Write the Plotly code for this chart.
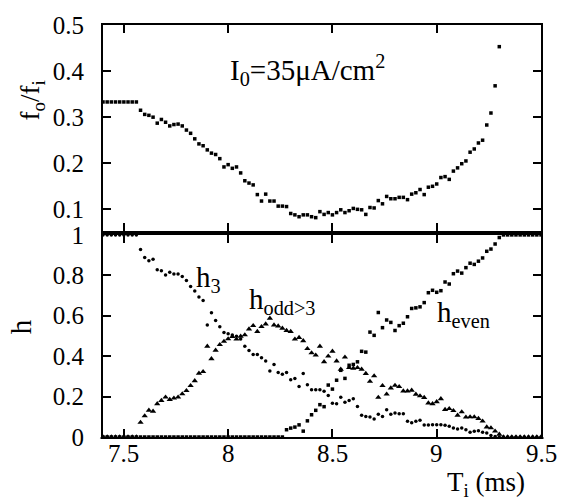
import plotly.graph_objects as go

# Inter-stimulus interval T_i (ms), sampled every 0.02 ms
T_i = [
    7.40, 7.42, 7.44, 7.46, 7.48, 7.50, 7.52, 7.54, 7.56, 7.58,
    7.60, 7.62, 7.64, 7.66, 7.68, 7.70, 7.72, 7.74, 7.76, 7.78,
    7.80, 7.82, 7.84, 7.86, 7.88, 7.90, 7.92, 7.94, 7.96, 7.98,
    8.00, 8.02, 8.04, 8.06, 8.08, 8.10, 8.12, 8.14, 8.16, 8.18,
    8.20, 8.22, 8.24, 8.26, 8.28, 8.30, 8.32, 8.34, 8.36, 8.38,
    8.40, 8.42, 8.44, 8.46, 8.48, 8.50, 8.52, 8.54, 8.56, 8.58,
    8.60, 8.62, 8.64, 8.66, 8.68, 8.70, 8.72, 8.74, 8.76, 8.78,
    8.80, 8.82, 8.84, 8.86, 8.88, 8.90, 8.92, 8.94, 8.96, 8.98,
    9.00, 9.02, 9.04, 9.06, 9.08, 9.10, 9.12, 9.14, 9.16, 9.18,
    9.20, 9.22, 9.24, 9.26, 9.28, 9.30, 9.32, 9.34, 9.36, 9.38,
    9.40, 9.42, 9.44, 9.46, 9.48, 9.50,
]

# Output / input frequency ratio (defined up to T_i = 9.30 ms)
f_ratio = [
    0.333, 0.333, 0.333, 0.333, 0.333, 0.333, 0.333, 0.333, 0.333,
    0.315, 0.306, 0.304, 0.300, 0.287, 0.295, 0.289, 0.281, 0.284, 0.285,
    0.281, 0.272, 0.265, 0.253, 0.242, 0.238, 0.229, 0.222, 0.219, 0.210,
    0.192, 0.197, 0.189, 0.192, 0.179, 0.162, 0.157, 0.153, 0.132, 0.118,
    0.133, 0.118, 0.118, 0.107, 0.107, 0.106, 0.091, 0.088, 0.084,
    0.088, 0.088, 0.084, 0.082, 0.095, 0.089, 0.093, 0.088, 0.093, 0.099,
    0.093, 0.097, 0.102, 0.100, 0.099, 0.089, 0.104, 0.103, 0.119, 0.112,
    0.128, 0.123, 0.123, 0.126, 0.126, 0.121, 0.133, 0.136, 0.143, 0.132,
    0.148, 0.150, 0.155, 0.169, 0.171, 0.165, 0.183, 0.190, 0.199, 0.205,
    0.224, 0.231, 0.244, 0.250, 0.283, 0.309, 0.368, 0.453,
]

# Harmonic content fractions
h_3 = [
    1.0, 1.0, 1.0, 1.0, 1.0, 1.0, 1.0, 1.0, 1.0,
    0.928, 0.888, 0.872, 0.880, 0.828, 0.823, 0.802, 0.815, 0.807, 0.807,
    0.794, 0.774, 0.745, 0.722, 0.693, 0.676, 0.554, 0.615, 0.576,
    0.546, 0.517, 0.511, 0.505, 0.498, 0.485, 0.449, 0.428, 0.408, 0.408,
    0.392, 0.376, 0.327, 0.359, 0.319, 0.311, 0.319, 0.283, 0.289, 0.250,
    0.314, 0.259, 0.234, 0.234, 0.234, 0.226, 0.205, 0.167, 0.164, 0.197,
    0.172, 0.180, 0.189, 0.151, 0.107, 0.102, 0.099, 0.089, 0.113,
    0.102, 0.135, 0.112, 0.119, 0.115, 0.115, 0.078, 0.070, 0.078, 0.083,
    0.059, 0.059, 0.060, 0.061, 0.061, 0.058, 0.053,
    0.044, 0.039, 0.044, 0.036, 0.024, 0.028, 0.031, 0.024, 0.020, 0.008,
    0.003, 0.0,
    0.0, 0.0, 0.0, 0.0, 0.0, 0.0, 0.0, 0.0, 0.0, 0.0,
]

h_odd = [
    0.0, 0.0, 0.0, 0.0, 0.0, 0.0, 0.0, 0.0, 0.0,
    0.072, 0.104, 0.132, 0.127, 0.164, 0.180, 0.197, 0.185, 0.192, 0.197,
    0.213, 0.229, 0.254, 0.278, 0.315, 0.323, 0.449, 0.387, 0.429, 0.457,
    0.473, 0.485, 0.497, 0.484, 0.498, 0.505, 0.534, 0.551, 0.522, 0.546,
    0.559, 0.587, 0.554, 0.549, 0.538, 0.527, 0.522, 0.484, 0.492,
    0.476, 0.437, 0.416, 0.405, 0.449, 0.372, 0.400, 0.424, 0.376, 0.335,
    0.395, 0.343, 0.340, 0.343, 0.335, 0.314, 0.275, 0.302, 0.196,
    0.254, 0.212, 0.242, 0.255, 0.249, 0.227, 0.227, 0.231, 0.211, 0.203,
    0.195, 0.168, 0.164, 0.174, 0.189, 0.136,
    0.140, 0.130, 0.107, 0.124, 0.098, 0.099, 0.099, 0.091, 0.078, 0.049,
    0.045, 0.029, 0.013,
    0.0, 0.0, 0.0, 0.0, 0.0, 0.0, 0.0, 0.0, 0.0, 0.0,
]

h_even = [
    0.0, 0.0, 0.0, 0.0, 0.0, 0.0, 0.0, 0.0, 0.0, 0.0,
    0.0, 0.0, 0.0, 0.0, 0.0, 0.0, 0.0, 0.0, 0.0, 0.0,
    0.0, 0.0, 0.0, 0.0, 0.0, 0.0, 0.0, 0.0, 0.0, 0.0,
    0.0, 0.0, 0.0, 0.0, 0.0, 0.0, 0.0, 0.0, 0.0, 0.0,
    0.0, 0.0, 0.0, 0.0,
    0.036, 0.044, 0.049, 0.060, 0.029, 0.080, 0.110, 0.132, 0.160, 0.150,
    0.257, 0.237, 0.281, 0.330, 0.290, 0.355, 0.359, 0.372, 0.424, 0.420,
    0.519, 0.503, 0.616,
    0.541, 0.579, 0.567, 0.527, 0.551, 0.563, 0.595, 0.636, 0.639, 0.644,
    0.665, 0.714, 0.726, 0.716, 0.724, 0.767, 0.757, 0.808, 0.821, 0.811,
    0.838, 0.860, 0.854, 0.870, 0.886, 0.919, 0.930, 0.955, 0.987,
    1.0, 1.0, 1.0, 1.0, 1.0, 1.0, 1.0, 1.0, 1.0, 1.0,
]

x_ticks = [7.5, 8, 8.5, 9, 9.5]
x_ticktext = ["7.5", "8", "8.5", "9", "9.5"]
top_y_ticks = [0.1, 0.2, 0.3, 0.4, 0.5]
top_y_ticktext = ["0.1", "0.2", "0.3", "0.4", "0.5"]
bot_y_ticks = [0, 0.2, 0.4, 0.6, 0.8, 1]
bot_y_ticktext = ["0", "0.2", "0.4", "0.6", "0.8", "1"]

FONT = "Liberation Serif"
BLACK = "#000000"

W, H = 564, 504
ML, MR, MT, MB = 103, 23, 17, 67
PW, PH = W - ML - MR, H - MT - MB


def px(xp):
    return (xp - ML) / PW


def py(yp):
    return (H - MB - yp) / PH


fig = go.Figure()

fig.add_trace(go.Scatter(
    x=T_i[:len(f_ratio)], y=f_ratio, mode="markers",
    marker=dict(symbol="square", size=3.5, color=BLACK),
    xaxis="x2", yaxis="y2", cliponaxis=False, showlegend=False))

fig.add_trace(go.Scatter(
    x=T_i, y=h_3, mode="markers",
    marker=dict(symbol="circle", size=3.5, color=BLACK),
    xaxis="x", yaxis="y", cliponaxis=False, showlegend=False))
fig.add_trace(go.Scatter(
    x=T_i, y=h_odd, mode="markers",
    marker=dict(symbol="triangle-up", size=5.5, color=BLACK),
    xaxis="x", yaxis="y", cliponaxis=False, showlegend=False))
fig.add_trace(go.Scatter(
    x=T_i, y=h_even, mode="markers",
    marker=dict(symbol="square", size=3.5, color=BLACK),
    xaxis="x", yaxis="y", cliponaxis=False, showlegend=False))

tick_font = dict(family=FONT, size=25, color=BLACK)
axis_common = dict(
    showline=True, linecolor=BLACK, linewidth=2, mirror="ticks",
    ticks="inside", ticklen=8, tickwidth=2, tickcolor=BLACK,
    showgrid=False, zeroline=False, tickfont=tick_font,
)

fig.update_layout(
    width=W, height=H,
    margin=dict(l=ML, r=MR, t=MT, b=MB),
    paper_bgcolor="white", plot_bgcolor="white",
    xaxis=dict(axis_common, domain=[0, 1], range=[7.4, 9.5], anchor="y",
               tickvals=x_ticks, showticklabels=False),
    yaxis=dict(axis_common, domain=[0, 0.4905], range=[0, 1], anchor="x",
               tickvals=bot_y_ticks, ticktext=bot_y_ticktext,
               ticklabelstandoff=12),
    xaxis2=dict(axis_common, domain=[0, 1], range=[7.4, 9.5], anchor="y2",
                tickvals=x_ticks, showticklabels=False),
    yaxis2=dict(axis_common, domain=[0.5, 1], range=[0.053, 0.5], anchor="x2",
                tickvals=top_y_ticks, ticktext=top_y_ticktext,
                ticklabelstandoff=12),
)

label_font = dict(family=FONT, size=29, color=BLACK)
axis_font = dict(family=FONT, size=27, color=BLACK)

annotations = [
    dict(text="I<sub>0</sub>=35\u03bcA/cm<sup>2</sup>", x=px(228), y=py(63),
         xanchor="left", yanchor="middle", font=label_font),
    dict(text="h<sub>3</sub>", x=px(194), y=py(276),
         xanchor="left", yanchor="middle", font=label_font),
    dict(text="h<sub>odd>3</sub>", x=px(247), y=py(298),
         xanchor="left", yanchor="middle", font=label_font),
    dict(text="h<sub>even</sub>", x=px(435), y=py(312),
         xanchor="left", yanchor="middle", font=label_font),
    dict(text="f<sub>o</sub>/f<sub>i</sub>", x=px(32), y=py(94),
         textangle=-90, xanchor="center", yanchor="middle", font=axis_font),
    dict(text="h", x=px(21), y=py(325),
         textangle=-90, xanchor="center", yanchor="middle", font=label_font),
    dict(text="T<sub>i</sub> (ms)", x=px(486), y=py(485),
         xanchor="center", yanchor="middle", font=axis_font),
]
for a in annotations:
    a.update(xref="paper", yref="paper", showarrow=False)

# x tick labels of the lower panel, placed just under the axis
for v, t in zip(x_ticks, x_ticktext):
    annotations.append(dict(
        text=t, x=v, xref="x", y=py(454), yref="paper",
        xanchor="center", yanchor="middle", showarrow=False, font=tick_font))

fig.update_layout(annotations=annotations)

fig.write_html("out.html")
